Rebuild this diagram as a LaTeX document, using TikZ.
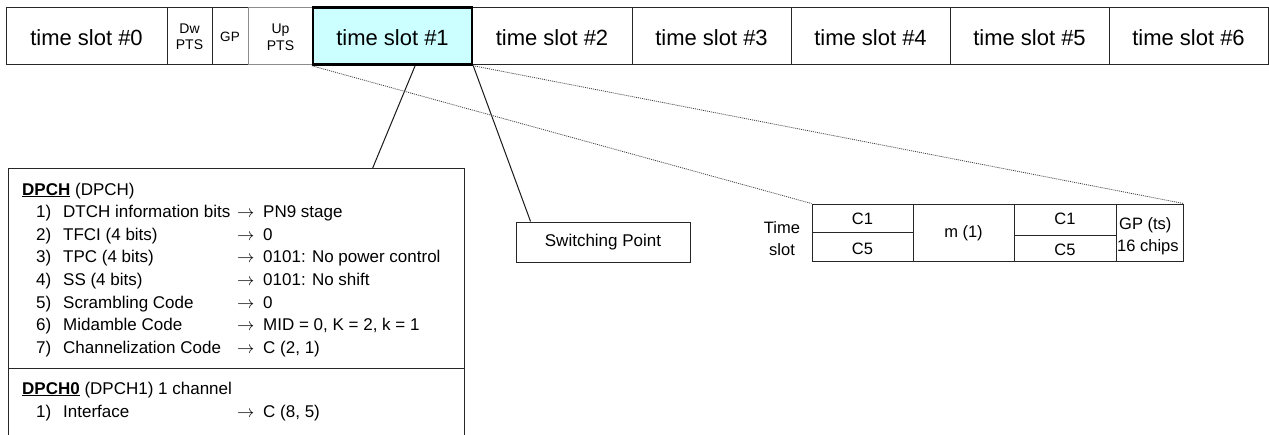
\documentclass[tikz,border=0pt]{standalone}
\usepackage{fontspec}
\setmainfont{Liberation Sans}
\usetikzlibrary{calc}
\definecolor{slotcyan}{HTML}{CCFFFF}
\begin{document}
\begin{tikzpicture}[x=1pt,y=-1pt,
  box/.style={draw=black!85, line width=1pt, inner sep=0pt},
  slotbox/.style={box, minimum height=57pt, text height=19pt, text depth=0pt, font=\fontsize{22}{26}\selectfont},
  smallbox/.style={box, minimum height=57pt, align=center, font=\fontsize{14}{16}\selectfont},
  txt/.style={inner sep=0pt, anchor=base west, font=\fontsize{17}{20}\selectfont},
  ctxt/.style={inner sep=0pt, anchor=base, font=\fontsize{16.5}{19}\selectfont},
  conn/.style={draw=black!90, line width=1pt},
  dotline/.style={draw=black!75, line width=0.8pt, dash pattern=on 1pt off 1pt}]
\useasboundingbox (0,0) rectangle (1269,434);
\clip (0,0) rectangle (1269,434);
% top frame
\node[slotbox, minimum width=161pt] (ts0) at (86.5,36) {time slot \#0};
\node[smallbox, minimum width=45pt] (dw) at (189.5,36) {};
\node[inner sep=0pt, anchor=base, font=\fontsize{14}{16}\selectfont] (dwa) at (189.5,33) {Dw};
\node[inner sep=0pt, anchor=base, font=\fontsize{14}{16}\selectfont] (dwb) at (189.5,49) {PTS};
\node[smallbox, minimum width=36pt] (gp) at (230,36) {};
\node[inner sep=0pt, anchor=base, font=\fontsize{13.5}{16}\selectfont] (gpt) at (230,41) {GP};
\node[box, draw=black!45, minimum height=57pt, minimum width=65pt] (up) at (280.5,36) {};
\node[inner sep=0pt, anchor=base, font=\fontsize{14}{16}\selectfont] (upa) at (280.5,33) {Up};
\node[inner sep=0pt, anchor=base, font=\fontsize{14}{16}\selectfont] (upb) at (280.5,50) {PTS};
\node[slotbox, minimum width=160pt] (ts2) at (552,36) {time slot \#2};
\node[slotbox, minimum width=159pt] (ts3) at (711.5,36) {time slot \#3};
\node[slotbox, minimum width=159pt] (ts4) at (870.5,36) {time slot \#4};
\node[slotbox, minimum width=159pt] (ts5) at (1029.5,36) {time slot \#5};
\node[slotbox, minimum width=159pt] (ts6) at (1188.5,36) {time slot \#6};
\node[slotbox, draw=black, line width=2.5pt, fill=slotcyan, minimum width=159pt] (ts1) at (392.5,36) {time slot \#1};
% DPCH box
\node[box, minimum width=456pt, minimum height=272pt, anchor=north west] (dpch) at (8,168) {};
\coordinate (divy) at (0,368);
\draw[box] (dpch.west |- divy) -- (dpch.east |- divy);
\node[txt] (h1) at (22,195) {\underline{\textbf{DPCH}} (DPCH)};
\foreach \n/\a/\b [count=\i from 0] in {
  1)/DTCH information bits/PN9 stage,
  2)/TFCI (4 bits)/0,
  3)/TPC (4 bits)/0101: No power control,
  4)/SS (4 bits)/0101: No shift,
  5)/Scrambling Code/0,
  6)/Midamble Code/{MID = 0, K = 2, k = 1},
  7)/Channelization Code/{C (2, 1)}} {
  \pgfmathsetmacro{\yy}{217.6+22.67*\i}
  \node[txt] (n\i) at (36,\yy) {\n};
  \node[txt] (a\i) at (63,\yy) {\a};
  \node[txt] (r\i) at (237,\yy) {$\rightarrow$};
  \node[txt] (v\i) at (263,\yy) {\b};
}
\node[txt] (h2) at (22,394) {\underline{\textbf{DPCH0}} (DPCH1) 1 channel};
\node[txt] (m1) at (36,417.6) {1)};
\node[txt] (m2) at (63,417.6) {Interface};
\node[txt] (m3) at (237,417.6) {$\rightarrow$};
\node[txt] (m4) at (263,417.6) {C (8, 5)};
% switching point
\node[box, minimum width=174pt, minimum height=40pt, font=\fontsize{17}{20}\selectfont] (sw) at (603,242) {Switching Point};
% time slot table
\node[box, minimum width=371pt, minimum height=57pt] (tbl) at (997.5,232.5) {};
\coordinate (c1) at (913,0);
\coordinate (c2) at (1014,0);
\coordinate (c3) at (1116,0);
\draw[box] (tbl.north -| c1) -- (tbl.south -| c1);
\draw[box] (tbl.north -| c2) -- (tbl.south -| c2);
\draw[box] (tbl.north -| c3) -- (tbl.south -| c3);
\coordinate (ra) at (0,232.5);
\coordinate (rb) at (0,235.5);
\draw[box] (tbl.west |- ra) -- (c1 |- ra);
\draw[box] (c2 |- rb) -- (c3 |- rb);
\node[ctxt] (tA) at (782,233) {Time};
\node[ctxt] (tB) at (782,255) {slot};
\node[ctxt] (c1a) at (862.5,224.5) {C1};
\node[ctxt] (c5a) at (862.5,254) {C5};
\node[ctxt] (mid) at (963.5,237) {m (1)};
\node[ctxt] (c1b) at (1065,224.5) {C1};
\node[ctxt] (c5b) at (1065,255) {C5};
\node[ctxt, anchor=base west] (gpa) at (1119,229) {GP (ts)};
\node[ctxt, anchor=base west] (gpb) at (1117,251) {16 chips};
% connectors
\draw[conn] ($(ts1.south west)!0.64!(ts1.south east)$) -- ($(dpch.north west)!0.798!(dpch.north east)$);
\draw[conn] (ts1.south east) -- ($(sw.north west)!0.086!(sw.north east)$);
\draw[dotline] (ts1.south west) -- (tbl.north west);
\draw[dotline] (ts1.south east) -- (tbl.north east);
\end{tikzpicture}
\end{document}
